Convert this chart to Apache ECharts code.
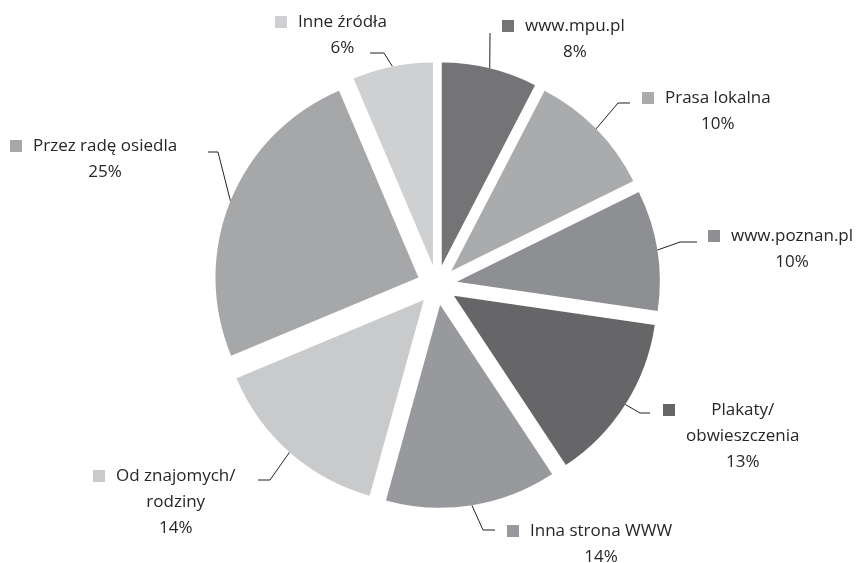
<!DOCTYPE html>
<html><head><meta charset="utf-8">
<script src="https://cdn.jsdelivr.net/npm/echarts@6/dist/echarts.min.js"></script>
<style>html,body{margin:0;background:#fff}#c{width:868px;height:563px}</style>
</head><body><div id="c"></div>
<script>
// Data (clockwise from 12 o'clock)
const categories = ['www.mpu.pl', 'Prasa lokalna', 'www.poznan.pl', 'Plakaty/\nobwieszczenia', 'Inna strona WWW', 'Od znajomych/\nrodziny', 'Przez radę osiedla', 'Inne źródła'];
const values = [7.6, 10.1, 9.6, 13.4, 13.6, 14.4, 24.9, 6.4];

// Styles
const colors = ['#747477', '#aaabad', '#8e8f92', '#666668', '#98999c', '#c9cacc', '#a6a7a9', '#cfd0d2'];
// label block top-left [x, y]
const labelXY = [[502, 13], [642, 85], [708, 223], [663, 397], [507, 518], [93, 463], [10, 133], [275, 9]];
// leader line bend and end points
const leaderBend = [[490, 33], [618, 103], [680, 242], [640, 413], [483, 530], [270, 480], [218, 152], [384, 53]];
const leaderEnd = [[490, 33], [630, 103], [697, 242], [650, 413], [495, 530], [258, 480], [208, 152], [370, 53]];

const CX = 437, CY = 285, R = 203, OFF = 20;
const total = values.reduce((a, b) => a + b, 0);
const midAngles = [];
(function () { let c = 0; values.forEach(v => { midAngles.push((c + v / 2) / total * 2 * Math.PI); c += v; }); })();

const rich = {
  g: { width: 11, height: 12, lineHeight: 26, align: 'left' },
  s: { width: 23, height: 12, lineHeight: 26, align: 'left' },
  n: { fontSize: 17, lineHeight: 26, align: 'center', color: '#262626', fontFamily: 'Open Sans' },
  c: { fontSize: 17, lineHeight: 26, align: 'center', color: '#262626', fontFamily: 'Open Sans' }
};
colors.forEach((col, i) => { rich['m' + i] = { width: 12, height: 12, lineHeight: 26, backgroundColor: col, align: 'left' }; });

const sliceData = categories.map((name, i) => ({ name: name, value: values[i], selected: true, itemStyle: { color: colors[i] } }));
const labelData = categories.map((name, i) => ({ name: name, value: values[i] }));

const chart = echarts.init(document.getElementById('c'), null, { renderer: 'canvas' });
chart.setOption({
  animation: false,
  backgroundColor: '#ffffff',
  series: [{
    // exploded slices
    type: 'pie',
    center: [CX, CY],
    radius: R,
    startAngle: 90,
    clockwise: true,
    selectedMode: 'multiple',
    selectedOffset: OFF,
    emphasis: { disabled: true },
    silent: true,
    data: sliceData,
    itemStyle: { borderWidth: 0 },
    label: { show: false },
    labelLine: { show: false }
  }, {
    // labels and leader lines (invisible sectors)
    type: 'pie',
    center: [CX, CY],
    radius: R,
    startAngle: 90,
    clockwise: true,
    silent: true,
    emphasis: { disabled: true },
    data: labelData,
    itemStyle: { color: 'rgba(0,0,0,0)', borderWidth: 0 },
    label: {
      show: true,
      position: 'outside',
      fontFamily: 'Open Sans',
      fontSize: 17,
      color: '#262626',
      lineHeight: 26,
      rich: rich,
      formatter: function (p) {
        const lines = p.name.split('\n');
        let out = '{m' + p.dataIndex + '|}{g|}{n|' + lines[0] + '}';
        for (let k = 1; k < lines.length; k++) out += '\n{s|}{c|' + lines[k] + '}';
        out += '\n{s|}{c|' + Math.round(p.percent) + '%}';
        return out;
      }
    },
    labelLine: { show: true, smooth: false, lineStyle: { color: '#222222', width: 1 } },
    labelLayout: function (p) {
      const i = p.dataIndex;
      const a = midAngles[i];
      const start = [CX + (R + OFF) * Math.sin(a), CY - (R + OFF) * Math.cos(a)];
      return {
        x: labelXY[i][0], y: labelXY[i][1], align: 'left', verticalAlign: 'top',
        labelLinePoints: [start, leaderBend[i], leaderEnd[i]]
      };
    }
  }]
});
</script>
</body></html>
